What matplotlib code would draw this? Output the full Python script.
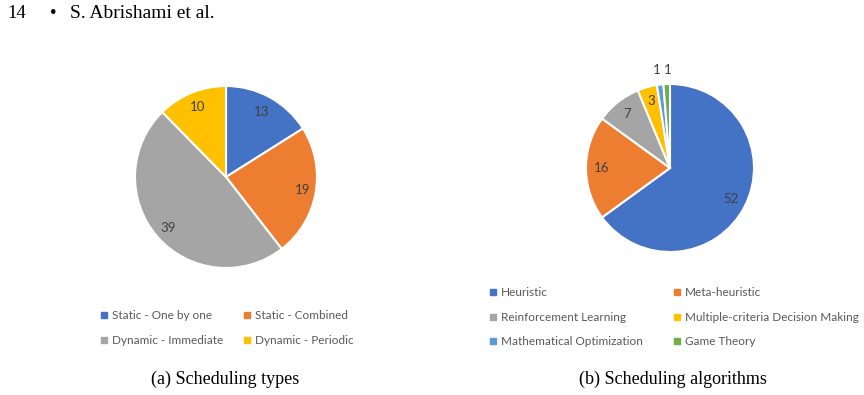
import matplotlib.pyplot as plt
import numpy as np
from matplotlib.lines import Line2D

# data
type_labels = ["Static - One by one", "Static - Combined",
               "Dynamic - Immediate", "Dynamic - Periodic"]
type_counts = [13, 19, 39, 10]

algo_labels = ["Heuristic", "Meta-heuristic", "Reinforcement Learning",
               "Multiple-criteria Decision Making", "Mathematical Optimization",
               "Game Theory"]
algo_counts = [52, 16, 7, 3, 1, 1]

office_colors = ["#4472C4", "#ED7D31", "#A5A5A5", "#FFC000", "#5B9BD5", "#70AD47"]
label_color = "#404040"
chart_font = ["Lato", "DejaVu Sans"]
serif_font = ["Liberation Serif", "DejaVu Serif"]

W, H = 864, 395
fig = plt.figure(figsize=(W / 100, H / 100), dpi=100)


def pie_axes(cx, cy, r):
    half = 1.3 * r
    ax = fig.add_axes([(cx - half) / W, (H - cy - half) / H, 2 * half / W, 2 * half / H])
    return ax


def draw_pie(ax, counts, colors, dists, nudges=None):
    wedges, _ = ax.pie(counts, colors=colors, startangle=90, counterclock=False,
                       radius=1, wedgeprops=dict(edgecolor="white", linewidth=1.5))
    ax.set_xlim(-1.3, 1.3)
    ax.set_ylim(-1.3, 1.3)
    ax.set_aspect("equal")
    ax.axis("off")
    if nudges is None:
        nudges = [0] * len(counts)
    for w, v, d, n in zip(wedges, counts, dists, nudges):
        ang = np.deg2rad((w.theta1 + w.theta2) / 2)
        ax.annotate(str(v), (d * np.cos(ang), d * np.sin(ang)), xytext=(n, 0),
                    textcoords="offset points", ha="center", va="center",
                    fontsize=9.5, color=label_color, family=chart_font)
    return wedges


def draw_legend(labels, colors, x, y, ncol, colspace):
    handles = [Line2D([], [], marker="s", linestyle="none", markersize=4.5,
                      markerfacecolor=c, markeredgecolor=c) for c in colors]
    # row-major ordering like the Excel legend
    nrow = int(np.ceil(len(labels) / ncol))
    order = [r * ncol + c for c in range(ncol) for r in range(nrow) if r * ncol + c < len(labels)]
    leg = fig.legend([handles[i] for i in order], [labels[i] for i in order],
                     loc="upper left", bbox_to_anchor=(x / W, 1 - y / H), ncol=ncol,
                     frameon=False, handlelength=0.6, handletextpad=0.4,
                     columnspacing=colspace, labelspacing=1.16, borderpad=0,
                     borderaxespad=0, prop=dict(family=chart_font, size=8.5))
    for t in leg.get_texts():
        t.set_color("#595959")
    return leg


ax1 = pie_axes(226, 177, 91)
draw_pie(ax1, type_counts, office_colors[:4], [0.81, 0.85, 0.85, 0.83])
draw_legend(type_labels, office_colors[:4], 100, 310, 2, 1.7)

ax2 = pie_axes(670, 168, 84)
draw_pie(ax2, algo_counts, office_colors, [0.81, 0.81, 0.82, 0.83, 1.17, 1.17],
         nudges=[0, 0, 0, 0, -1, 1.5])
draw_legend(algo_labels, office_colors, 489, 287, 2, 2.6)

# page header and captions
fig.text(7 / W, 1 - 14 / H, "14", fontsize=13.5, family=serif_font, va="center")
fig.text(50 / W, 1 - 14 / H, "\u2022", fontsize=13.5, family=serif_font, va="center")
fig.text(70 / W, 1 - 14 / H, "S. Abrishami et al.", fontsize=14, family=serif_font,
         va="center")
fig.text(225 / W, 1 - 379 / H, "(a) Scheduling types", fontsize=13, family=serif_font,
         ha="center", va="center")
fig.text(673 / W, 1 - 379 / H, "(b) Scheduling algorithms", fontsize=13,
         family=serif_font, ha="center", va="center")

fig.savefig("out.png", dpi=100, facecolor="white")
